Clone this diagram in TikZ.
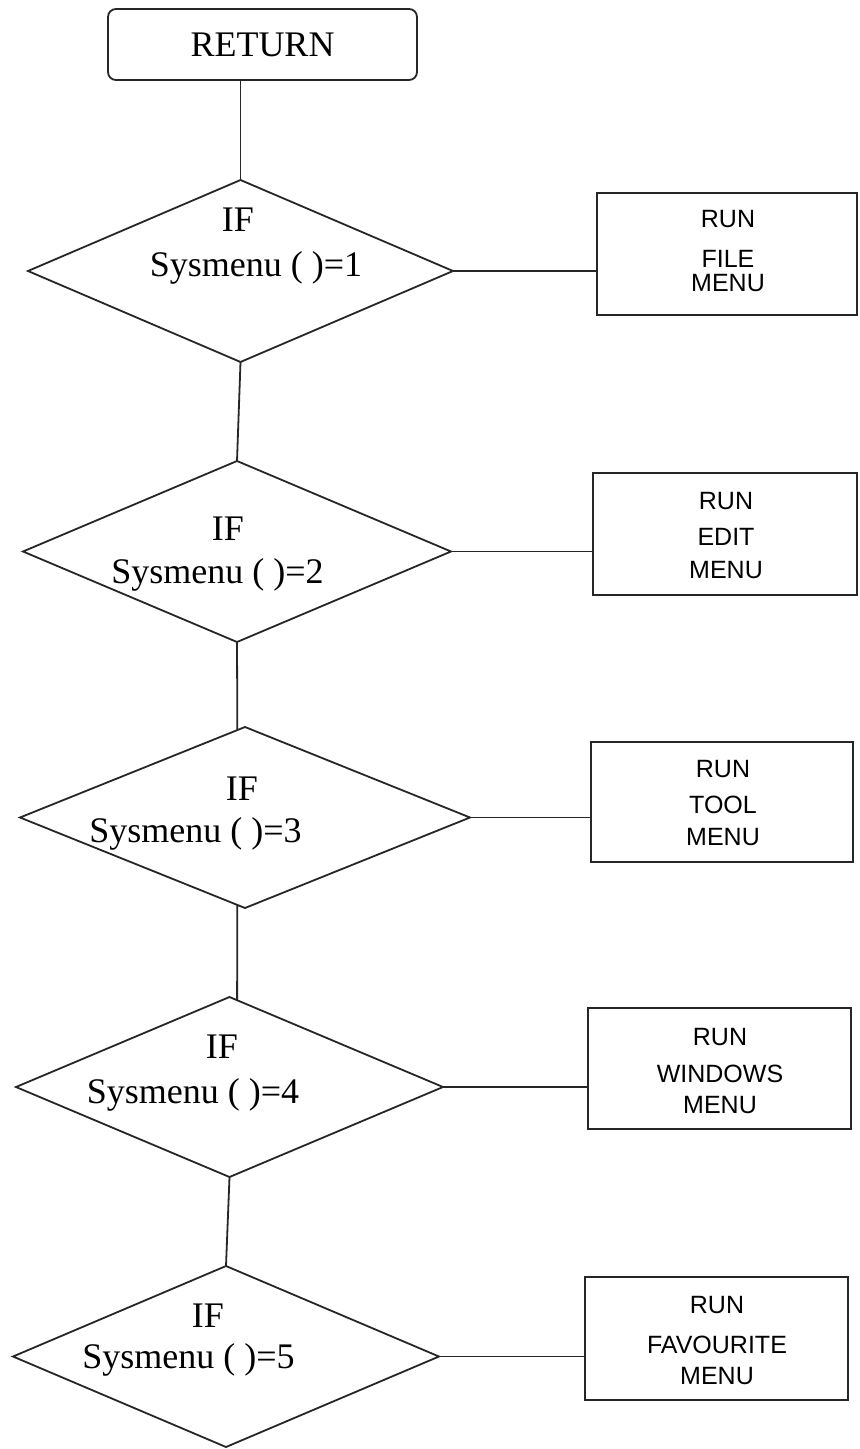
\documentclass[tikz,border=0pt]{standalone}
\usepackage{fontspec}
\setmainfont{Liberation Serif}
\newfontfamily\menufont{Liberation Sans}
\usetikzlibrary{shapes.geometric}

\begin{document}
\begin{tikzpicture}[x=0.5pt,y=-0.5pt,
  ink/.style={draw=black!85, line width=0.9pt},
  startbox/.style={ink, rectangle, rounded corners=4pt, inner sep=0pt, outer sep=0pt,
    font=\fontsize{18}{21}\selectfont},
  test/.style={ink, diamond, inner sep=0pt, outer sep=0pt},
  runbox/.style={ink, line width=1.25pt, rectangle, inner sep=0pt, outer sep=0pt},
  condtext/.style={anchor=base, inner sep=0pt, font=\fontsize{18}{21}\selectfont},
  menutext/.style={anchor=base, inner sep=0pt, font=\menufont\fontsize{12.5}{14}\selectfont},
  link/.style={ink}
]
\useasboundingbox (0,0) rectangle (859,1449);

% start node
\node[startbox, minimum width=154.5pt, minimum height=35.5pt] (ret) at (262.5,44.5) {RETURN};

% decision diamonds
\node[test, minimum width=212.5pt, minimum height=91pt]   (d1) at (240.5,271) {};
\node[test, minimum width=214pt,   minimum height=90.5pt] (d2) at (237,551.5) {};
\node[test, minimum width=225pt,   minimum height=90.5pt] (d3) at (245,817.5) {};
\node[test, minimum width=213.5pt, minimum height=90pt]   (d4) at (229.5,1087) {};
\node[test, minimum width=213pt,   minimum height=90.5pt] (d5) at (226,1356.5) {};

% conditions
\node[condtext] (if1) at (238,232) {IF};
\node[condtext] (c1)  at (256,277) {Sysmenu ( )=1};
\node[condtext] (if2) at (228,540) {IF};
\node[condtext] (c2)  at (217.5,583) {Sysmenu ( )=2};
\node[condtext] (if3) at (242,800) {IF};
\node[condtext] (c3)  at (195.5,842) {Sysmenu ( )=3};
\node[condtext] (if4) at (222,1058) {IF};
\node[condtext] (c4)  at (193,1103) {Sysmenu ( )=4};
\node[condtext] (if5) at (208,1327) {IF};
\node[condtext] (c5)  at (188.5,1368) {Sysmenu ( )=5};

% action boxes
\node[runbox, minimum width=130pt,   minimum height=61pt]   (b1) at (727,254) {};
\node[runbox, minimum width=132pt,   minimum height=61pt]   (b2) at (725,534) {};
\node[runbox, minimum width=131pt,   minimum height=60pt]   (b3) at (722,802) {};
\node[runbox, minimum width=131.5pt, minimum height=60.5pt] (b4) at (719.5,1068.5) {};
\node[runbox, minimum width=131.5pt, minimum height=61.5pt] (b5) at (716.5,1338.5) {};

\node[menutext] (r1a) at (728,228) {RUN};
\node[menutext] (r1b) at (728,268) {FILE};
\node[menutext] (r1c) at (728,292) {MENU};
\node[menutext] (r2a) at (726,509) {RUN};
\node[menutext] (r2b) at (726,545) {EDIT};
\node[menutext] (r2c) at (726,578) {MENU};
\node[menutext] (r3a) at (723,777) {RUN};
\node[menutext] (r3b) at (723,813) {TOOL};
\node[menutext] (r3c) at (723,845) {MENU};
\node[menutext] (r4a) at (720,1045) {RUN};
\node[menutext] (r4b) at (720,1082) {WINDOWS};
\node[menutext] (r4c) at (720,1113) {MENU};
\node[menutext] (r5a) at (717,1313) {RUN};
\node[menutext] (r5b) at (717,1353) {FAVOURITE};
\node[menutext] (r5c) at (717,1384) {MENU};

% vertical flow
\draw[link] (ret.south -| d1.north) -- (d1.north);
\draw[link] (d1.south) -- (d2.north);
\draw[link] (d2.south) -- (d3.95);
\draw[link] (d3.265) -- (d4.85);
\draw[link] (d4.south) -- (d5.north);

% branches to actions
\draw[link] (d1.east) -- (d1.east -| b1.west);
\draw[link] (d2.east) -- (d2.east -| b2.west);
\draw[link] (d3.east) -- (d3.east -| b3.west);
\draw[link] (d4.east) -- (d4.east -| b4.west);
\draw[link] (d5.east) -- (d5.east -| b5.west);
\end{tikzpicture}
\end{document}
